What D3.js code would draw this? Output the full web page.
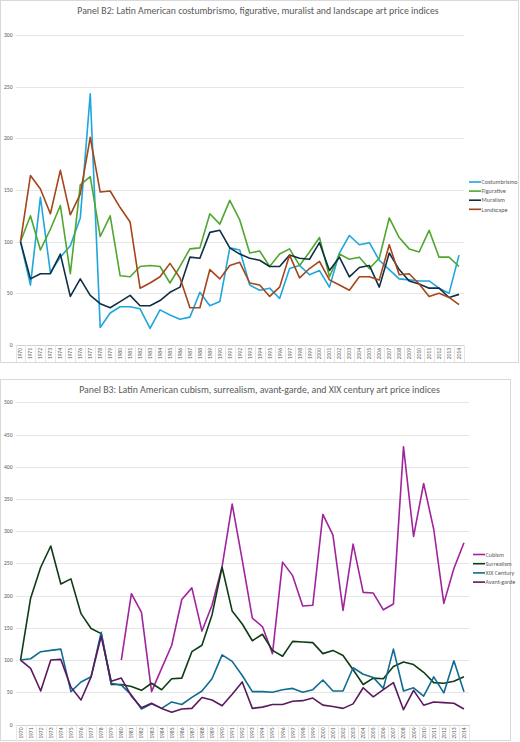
<!DOCTYPE html>
<html>
<head>
<meta charset="utf-8">
<script src="https://cdn.jsdelivr.net/npm/d3@7"></script>
<style>
  body { margin: 0; background: #fff; }
  text { font-family: Calibri, Carlito, Lato, "Liberation Sans", sans-serif; fill: #595959; }
</style>
</head>
<body>
<div id="container"></div>
<script>
let width = 520;
let height = 742;

let years = ['1970','1971','1972','1973','1974','1975','1976','1977','1978','1979',
    '1980','1981','1982','1983','1984','1985','1986','1987','1988','1989',
    '1990','1991','1992','1993','1994','1995','1996','1997','1998','1999',
    '2000','2001','2002','2003','2004','2005','2006','2007','2008','2009',
    '2010','2011','2012','2013','2014'];

// panel B2
let costumbrismo = [100,58,143,70,85,96,123,243,17,31, 37,37,35,16,34,29,25,27,51,38,
    42,94,92,58,53,55,45,74,77,68, 72,56,89,106,97,99,82,73,64,63, 62,62,55,50,87];
let figurative = [100,125,92,112,135,69,155,163,105,125, 67,66,76,77,76,60,76,93,94,127,
    117,140,121,89,91,76,88,93,77,90, 104,66,88,83,85,74,84,123,104,93, 90,111,85,85,76];
let muralism = [100,64,69,69,88,47,64,48,40,36, 42,48,38,38,43,51,56,85,84,109,
    111,94,88,84,82,76,76,87,84,83, 99,72,85,66,75,77,56,89,73,62, 59,55,55,46,49];
let landscape = [100,164,151,127,169,126,146,201,148,149, 133,119,55,60,66,79,65,36,36,73,
    64,77,80,60,58,47,56,87,65,74, 81,63,58,53,66,66,63,97,68,69, 59,47,50,46,39];
let ticksB2 = [0, 50, 100, 150, 200, 250, 300];

// panel B3
let cubism = [null,null,null,null,null,null,null,null,null,null, 100,203,174,51,87,123,194,212,145,185,
    245,342,255,165,152,110,252,231,184,185, 326,294,177,280,205,204,178,187,431,292, 374,303,188,242,282];
let surrealism = [100,196,244,277,218,226,172,149,141,62, 62,59,53,64,54,71,72,113,123,170,
    244,176,156,130,140,115,106,129,128,127, 110,115,107,85,62,72,71,90,97,93, 81,65,64,67,74];
let xixCentury = [100,102,113,115,117,51,66,74,143,64, 61,46,24,32,25,35,31,42,52,71,
    108,98,76,51,51,50,54,56,50,54, 69,52,52,88,78,73,56,117,52,57, 44,74,49,99,51];
let avantGarde = [100,87,52,100,101,58,38,74,137,67, 72,44,26,33,25,19,24,25,42,38,
    29,47,66,25,27,31,31,36,37,41, 30,28,25,32,57,43,54,65,23,53, 30,35,34,33,24];
let ticksB3 = [0, 50, 100, 150, 200, 250, 300, 350, 400, 450, 500];

let svg = d3.select("#container")
    .append("svg")
    .attr("width", width)
    .attr("height", height);

function drawPanel(p) {
    let g = svg.append('g');

    g.append('rect')
        .attr('x', p.box[0]).attr('y', p.box[1])
        .attr('width', p.box[2]).attr('height', p.box[3])
        .attr('fill', '#fff')
        .attr('stroke', '#d9d9d9')
        .attr('stroke-width', 1);

    let x = d3.scalePoint()
        .domain(years)
        .range([p.left, p.right])
        .padding(0.5);
    let band = x.step();

    let y = d3.scaleLinear()
        .domain([0, p.max])
        .range([p.bottom, p.top]);

    // gridlines
    g.selectAll('.grid')
        .data(p.ticks)
        .enter()
        .append('line')
        .attr('x1', p.left).attr('x2', p.right)
        .attr('y1', (d) => Math.round(y(d)) + 0.5)
        .attr('y2', (d) => Math.round(y(d)) + 0.5)
        .attr('stroke', (d) => d == 0 ? '#d0d0d0' : '#e6e6e6')
        .attr('stroke-width', 1);

    g.selectAll('.ylab')
        .data(p.ticks)
        .enter()
        .append('text')
        .attr('x', 12.5)
        .attr('y', (d) => y(d) + 2)
        .attr('text-anchor', 'end')
        .attr('font-size', 5.6)
        .text((d) => d);

    // category ticks between years
    g.selectAll('.xtick')
        .data(years.concat(['end']))
        .enter()
        .append('line')
        .attr('x1', (d, i) => Math.round(p.left + i * band) + 0.5)
        .attr('x2', (d, i) => Math.round(p.left + i * band) + 0.5)
        .attr('y1', p.bottom)
        .attr('y2', p.bottom + 17)
        .attr('stroke', '#e6e6e6');

    g.selectAll('.xlab')
        .data(years)
        .enter()
        .append('text')
        .attr('transform', (d) => 'translate(' + (x(d) + 2) + ',' + (p.bottom + 3) + ') rotate(-90)')
        .attr('text-anchor', 'end')
        .attr('font-size', 5.6)
        .text((d) => d);

    let line = d3.line()
        .defined((d) => d != null)
        .x((d, i) => x(years[i]))
        .y((d) => y(d));

    g.selectAll('.series')
        .data(p.series)
        .enter()
        .append('path')
        .attr('d', (d) => line(d.values))
        .attr('fill', 'none')
        .attr('stroke', (d) => d.color)
        .attr('stroke-width', 1.6)
        .attr('stroke-linejoin', 'round');

    // legend
    let leg = g.selectAll('.leg')
        .data(p.series)
        .enter()
        .append('g')
        .attr('transform', (d, i) => 'translate(' + p.legX + ',' + (p.legY + i * p.legGap) + ')');
    leg.append('line')
        .attr('x1', 0).attr('x2', 12)
        .attr('stroke', (d) => d.color)
        .attr('stroke-width', 1.6);
    leg.append('text')
        .attr('x', 12.5)
        .attr('y', 2.2)
        .attr('font-size', 6.1)
        .text((d) => d.name);

    let title = g.append('text')
        .attr('x', p.titleX)
        .attr('y', p.titleY)
        .attr('text-anchor', 'middle')
        .attr('font-size', 10)
        .text(p.title);
    let w = title.node().getComputedTextLength();
    title.attr('font-size', 10 * p.titleW / w);
}

drawPanel({
    box: [0.5, 0.5, 518, 362],
    left: 15.5, right: 464, top: 35, bottom: 345, max: 300,
    ticks: ticksB2,
    title: 'Panel B2: Latin American costumbrismo, figurative, muralist and landscape art price indices',
    titleX: 258, titleY: 14, titleW: 362,
    legX: 469, legY: 182, legGap: 9.1,
    series: [
        { name: 'Costumbrismo', color: '#1fa6dd', values: costumbrismo },
        { name: 'Figurative', color: '#4ea72e', values: figurative },
        { name: 'Muralism', color: '#0e2f44', values: muralism },
        { name: 'Landscape', color: '#a4451a', values: landscape }
    ]
});

drawPanel({
    box: [0.5, 379.5, 510, 361],
    left: 15.5, right: 469, top: 402.3, bottom: 724.5, max: 500,
    ticks: ticksB3,
    title: 'Panel B3: Latin American cubism, surrealism, avant-garde, and XIX century art price indices',
    titleX: 259.5, titleY: 393, titleW: 361,
    legX: 473, legY: 554.5, legGap: 9.2,
    series: [
        { name: 'Cubism', color: '#a0249d', values: cubism },
        { name: 'Surrealism', color: '#0e3d14', values: surrealism },
        { name: 'XIX Century', color: '#0f6b91', values: xixCentury },
        { name: 'Avant-garde', color: '#5b1a5c', values: avantGarde }
    ]
});
</script>
</body>
</html>
